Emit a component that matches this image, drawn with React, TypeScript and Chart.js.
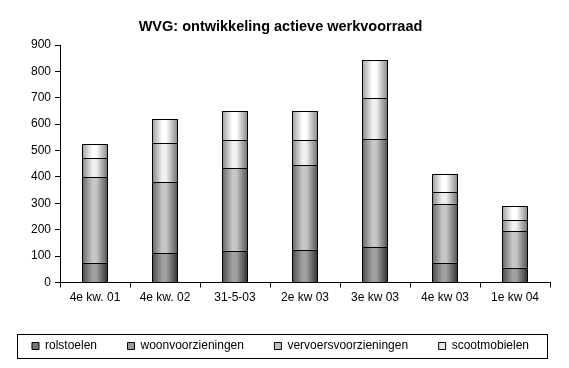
import React, { useEffect, useRef } from "react";
import { Chart, registerables } from "chart.js";

Chart.register(...registerables);

const categories = ["4e kw. 01", "4e kw. 02", "31-5-03", "2e kw 03", "3e kw 03", "4e kw 03", "1e kw 04"];
const rolstoelen = [75, 112, 120, 125, 135, 75, 56];
const woonvoorzieningen = [325, 269, 314, 320, 408, 223, 139];
const vervoersvoorzieningen = [72, 147, 106, 95, 155, 45, 42];
const scootmobielen = [52, 90, 110, 109, 144, 68, 53];
const yTicks = [0, 100, 200, 300, 400, 500, 600, 700, 800, 900];

const FONT = "'Liberation Sans', Arial, sans-serif";
const BAR_FRACTION = 0.37;

// gradient stops per series: [edgeLeft, center, edgeRight]
const shades: string[][] = [
  ["#4a4a4a", "#a0a0a0", "#303030"],
  ["#666666", "#c6c6c6", "#505050"],
  ["#848484", "#f0f0f0", "#6c6c6c"],
  ["#a0a0a0", "#ffffff", "#858585"],
];
const solid = ["#777777", "#9a9a9a", "#c0c0c0", "#e6e6e6"];

function gradFor(di: number) {
  return (c: any) => {
    const chart = c.chart;
    const xs = chart.scales && chart.scales.x;
    if (!chart.chartArea || !xs || c.type !== "data") return solid[di];
    const n = chart.data.labels.length;
    const w = (xs.width / n) * BAR_FRACTION;
    const x = xs.getPixelForValue(c.dataIndex);
    const g = chart.ctx.createLinearGradient(x - w / 2, 0, x + w / 2, 0);
    const s = shades[di];
    g.addColorStop(0, s[0]);
    g.addColorStop(0.4, s[1]);
    g.addColorStop(0.55, s[1]);
    g.addColorStop(1, s[2]);
    return g;
  };
}

// crisp 1px outlines around every bar segment (shared edges overlap into one line)
const outlinePlugin = {
  id: "barOutline",
  afterDatasetsDraw(chart: any) {
    const ctx = chart.ctx;
    ctx.save();
    ctx.strokeStyle = "#000";
    ctx.lineWidth = 1;
    chart.data.datasets.forEach((_d: any, di: number) => {
      const meta = chart.getDatasetMeta(di);
      meta.data.forEach((el: any) => {
        const l = Math.round(el.x - el.width / 2) + 0.5;
        const r = Math.round(el.x + el.width / 2) - 0.5;
        const t = Math.round(Math.min(el.y, el.base)) + 0.5;
        const b = Math.round(Math.max(el.y, el.base)) + 0.5;
        ctx.strokeRect(l, t, r - l, b - t);
      });
    });
    ctx.restore();
  },
};

const legendFramePlugin = {
  id: "legendFrame",
  afterDraw(chart: any) {
    const lg = chart.legend;
    if (!lg || !lg.legendHitBoxes || !lg.legendHitBoxes.length) return;
    const hb = lg.legendHitBoxes[0];
    const cy = hb.top + hb.height / 2;
    const ctx = chart.ctx;
    ctx.save();
    ctx.strokeStyle = "#000";
    ctx.lineWidth = 1;
    ctx.strokeRect(17.5, Math.round(cy - 12) + 0.5, chart.width - 39, 24);
    ctx.restore();
  },
};

export default function App() {
  const ref = useRef<HTMLCanvasElement>(null);
  useEffect(() => {
    if (!ref.current) return;
    const mk = (label: string, data: number[], i: number) => ({
      label,
      data,
      backgroundColor: gradFor(i),
      borderWidth: 0,
      inflateAmount: 0,
      categoryPercentage: 1,
      barPercentage: BAR_FRACTION,
    });
    const chart = new Chart(ref.current, {
      type: "bar",
      data: {
        labels: categories,
        datasets: [
          mk("rolstoelen", rolstoelen, 0),
          mk("woonvoorzieningen", woonvoorzieningen, 1),
          mk("vervoersvoorzieningen", vervoersvoorzieningen, 2),
          mk("scootmobielen", scootmobielen, 3),
        ],
      },
      options: {
        responsive: false,
        animation: false,
        layout: { padding: { left: 0, right: 8, top: 0, bottom: 6 } },
        plugins: {
          title: {
            display: true,
            text: "WVG: ontwikkeling actieve werkvoorraad",
            color: "#000",
            font: { family: FONT, size: 14.5, weight: "bold" },
            padding: { top: 18.3, bottom: 9.3 },
          },
          legend: {
            position: "bottom",
            labels: {
              color: "#000",
              font: { family: FONT, size: 12 },
              boxWidth: 7,
              boxHeight: 7,
              padding: 30.5,
              generateLabels: (chart: any) => {
                const items = Chart.defaults.plugins.legend.labels.generateLabels(chart);
                return items.map((it: any, i: number) => ({
                  ...it,
                  fillStyle: solid[i],
                  strokeStyle: "#000",
                  lineWidth: 1,
                }));
              },
            },
          },
          tooltip: { enabled: false },
        },
        scales: {
          x: {
            stacked: true,
            grid: { drawOnChartArea: false, drawTicks: true, tickLength: 5, color: "#000", offset: true },
            border: { color: "#000" },
            ticks: { color: "#000", font: { family: FONT, size: 12 }, padding: 3, maxRotation: 0 },
            afterFit: (s: any) => { s.height = 27; },
          },
          y: {
            stacked: true,
            min: 0,
            max: 900,
            afterBuildTicks: (s: any) => { s.ticks = yTicks.map((v) => ({ value: v })); },
            grid: { drawOnChartArea: false, drawTicks: true, tickLength: 5, color: "#000" },
            border: { color: "#000" },
            ticks: { color: "#000", font: { family: FONT, size: 12 }, padding: 4 },
            afterFit: (s: any) => { s.width = 60; },
          },
          yRight: {
            position: "right",
            display: true,
            min: 0,
            max: 900,
            grid: { display: false, drawTicks: false },
            border: { display: false },
            ticks: { display: false },
            afterFit: (s: any) => { s.width = 11; },
          },
        },
      },
      plugins: [outlinePlugin, legendFramePlugin],
    } as any);
    return () => chart.destroy();
  }, []);
  return (
    <div style={{ position: "fixed", left: 0, top: 0, width: 569, height: 368, background: "#fff" }}>
      <canvas ref={ref} width={569} height={368} />
    </div>
  );
}
